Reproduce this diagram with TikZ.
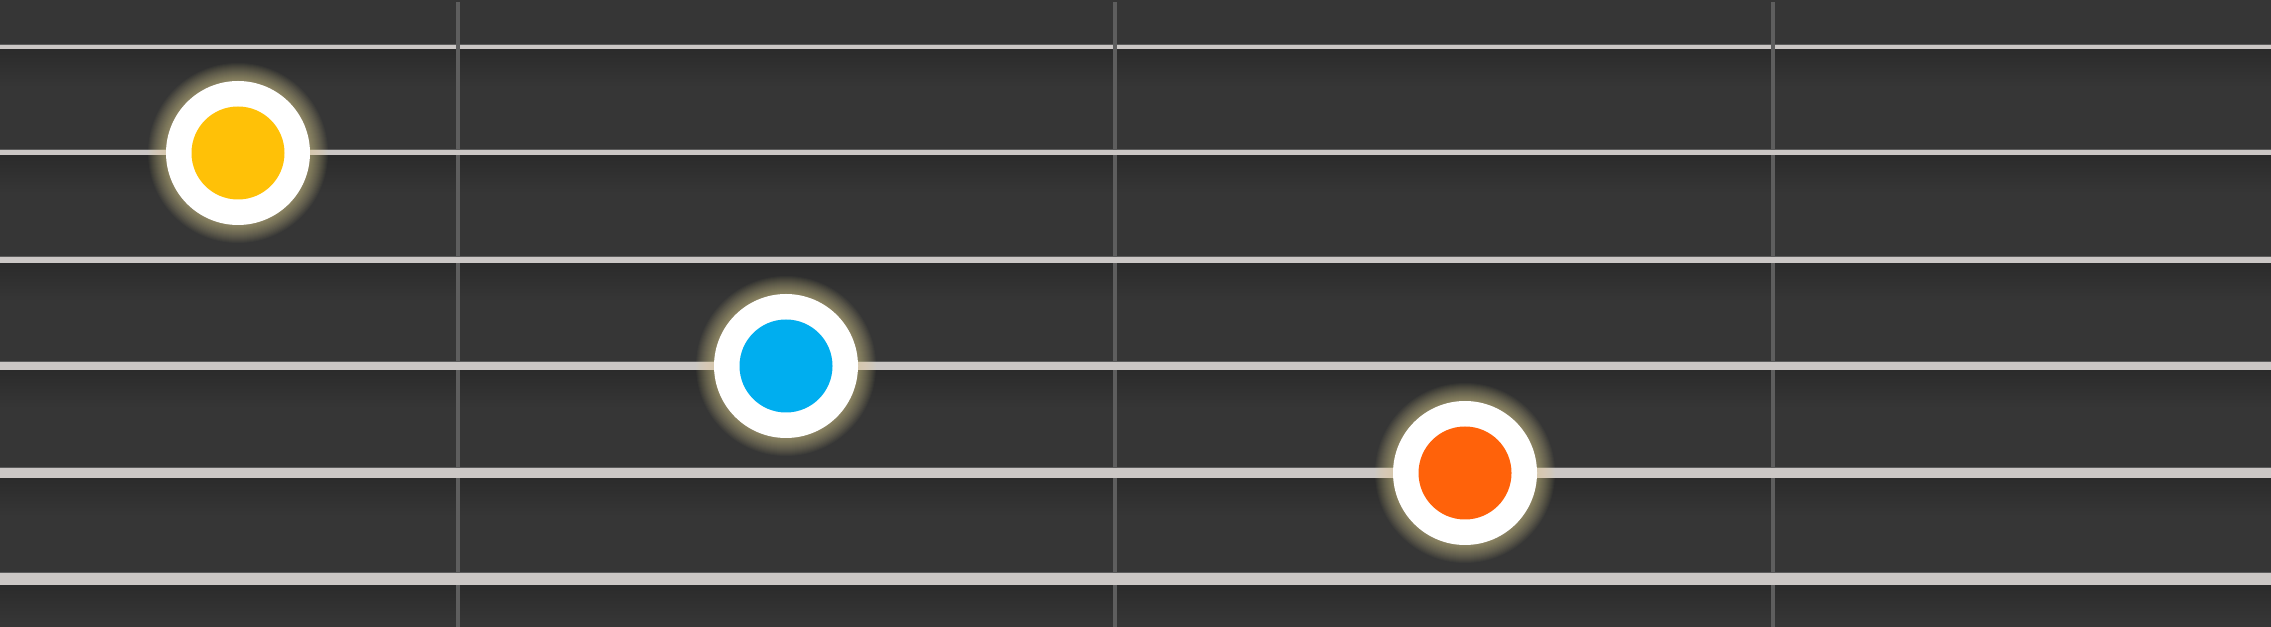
\documentclass[tikz,border=0pt]{standalone}
\usetikzlibrary{positioning}
\definecolor{boardgray}{HTML}{363636}
\definecolor{boardshadow}{HTML}{2B2B2B}
\definecolor{stringgray}{HTML}{CBC7C5}
\definecolor{stringedge}{HTML}{5C5C5C}
\definecolor{fretgray}{HTML}{5E5E5E}
\definecolor{glowcream}{HTML}{F2E4A0}
\definecolor{noteyellow}{HTML}{FFC107}
\definecolor{noteblue}{HTML}{00AEEF}
\definecolor{noteorange}{HTML}{FF620A}

\begin{document}
\begin{tikzpicture}[x=0.1mm,y=-0.1mm,
    ring/.style={circle,fill=white,minimum size=14.4mm,inner sep=0pt},
    core/.style={circle,minimum size=9.3mm,inner sep=0pt}]
    \useasboundingbox (0,0) rectangle (2271,627);
    \fill[boardgray] (0,0) rectangle (2271,627);
    % string shadows
    \foreach \y/\w in {47/4,153/5,260/6,366/8,473/10,579/12}
      \shade[top color=boardshadow,bottom color=boardgray] (0,\y+\w/2) rectangle (2271,\y+\w/2+38);
    % top string sits under the frets
    \draw[stringedge,line width=0.15mm] (0,44.3) -- (2271,44.3);
    \draw[stringgray,line width=0.4mm] (0,47) -- (2271,47);
    % frets
    \foreach \x in {458,1115,1773}
      \draw[fretgray,line width=0.42mm] (\x,2) -- (\x,627);
    % other strings, thin to thick
    \foreach \y/\w in {153/5,260/6,366/8,473/10,579/12}{
      \draw[stringedge,line width=0.15mm] (0,\y-\w/2-0.7) -- (2271,\y-\w/2-0.7);
      \draw[stringgray,line width=\w*0.1mm] (0,\y) -- (2271,\y);
    }
    % notes
    \foreach \n/\x/\y/\c in {yel/238/153/noteyellow,blu/786/366/noteblue,ora/1465/473/noteorange}{
      \foreach \r in {1,...,18}
        \fill[glowcream,opacity=0.035] (\x,\y) circle[radius=72+\r];
      \node[ring] (\n) at (\x,\y) {};
      \node[core,fill=\c] (\n c) at (\n) {};
    }
\end{tikzpicture}
\end{document}
